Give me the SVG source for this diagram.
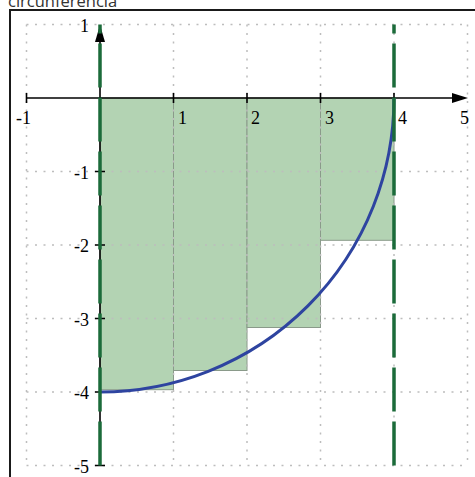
<svg xmlns="http://www.w3.org/2000/svg" width="475" height="477" viewBox="0 0 475 477">
<style>
.grid{stroke:#bdbdbd;stroke-width:1.5;stroke-dasharray:2 6.5;fill:none}
.rect{fill:#b3d3b3;stroke:#8a9a8a;stroke-width:1}
.axis{stroke:#000;stroke-width:1.6;fill:none}
.tick{stroke:#000;stroke-width:1.6}
.lbl{font-family:"Liberation Serif",serif;font-size:18px;fill:#000}
.ylbl{text-anchor:end}
.vline{stroke:#1b6b3a;stroke-width:3.5;stroke-dasharray:44 10;fill:none}
.curve{stroke:#2e44a0;stroke-width:3;fill:none}
</style>
<text x="8" y="7" font-family="Open Sans, sans-serif" font-size="16.5" fill="#333">circunferencia</text>
<rect x="10" y="10" width="470" height="470" fill="none" stroke="#1a1a1a" stroke-width="2"/>
<g id="rectangles">
<rect class="rect" x="100" y="98" width="73.5" height="291.7"/>
<rect class="rect" x="173.5" y="98" width="73.5" height="272.5"/>
<rect class="rect" x="247" y="98" width="73.5" height="229.5"/>
<rect class="rect" x="320.5" y="98" width="73.5" height="142.3"/>
</g>
<g id="grid">
<path class="grid" d="M26.5,24.5V465.5M173.5,24.5V465.5M247,24.5V465.5M320.5,24.5V465.5M394,24.5V465.5M467.5,24.5V465.5"/>
<path class="grid" d="M26.5,24.5H467.5M26.5,171.5H467.5M26.5,245H467.5M26.5,318.5H467.5M26.5,392H467.5M26.5,465.5H467.5"/>
</g>
<g id="axes">
<line class="axis" x1="26.5" y1="98" x2="456" y2="98"/>
<polygon points="468,98 452,93 452,103" fill="#000"/>
<line class="axis" x1="100" y1="465.5" x2="100" y2="38"/>
<polygon points="100,25 95,42 105,42" fill="#000"/>
<path class="tick" d="M26.5,93V103M173.5,93V103M247,93V103M320.5,93V103M394,93V103M95,171.5H105M95,245H105M95,318.5H105M95,392H105M95,465.5H105"/>
</g>
<g id="connectors">
<path id="arc" class="curve" d="M100,392 A294,294 0 0 0 394,98"/>
<line class="vline" x1="100" y1="465.5" x2="100" y2="24.5"/>
<line class="vline" x1="394" y1="465.5" x2="394" y2="24.5"/>
</g>
<g id="labels">
<text class="lbl" x="16" y="124">-1</text>
<text class="lbl" x="178" y="124">1</text>
<text class="lbl" x="251" y="124">2</text>
<text class="lbl" x="325" y="124">3</text>
<text class="lbl" x="398" y="124">4</text>
<text class="lbl" x="460" y="124">5</text>
<text class="lbl ylbl" x="89" y="32">1</text>
<text class="lbl ylbl" x="89" y="179">-1</text>
<text class="lbl ylbl" x="89" y="252">-2</text>
<text class="lbl ylbl" x="89" y="326">-3</text>
<text class="lbl ylbl" x="89" y="399">-4</text>
<text class="lbl ylbl" x="89" y="473">-5</text>
</g>
</svg>
